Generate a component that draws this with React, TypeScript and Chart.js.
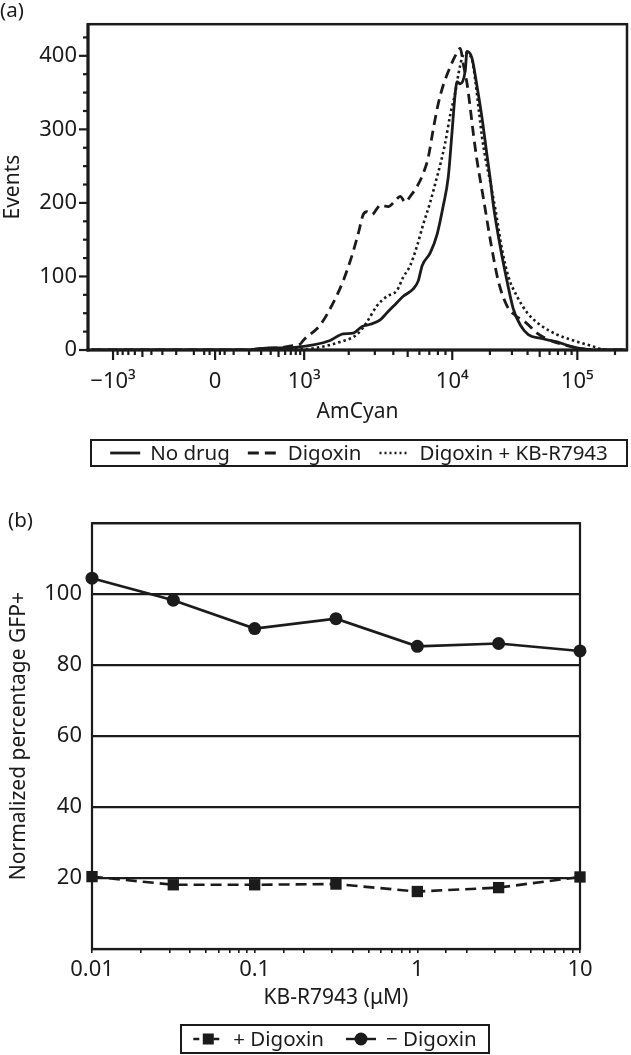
import React, { useEffect, useRef } from 'react';
import { Chart, registerables, LinearScale } from 'chart.js';

Chart.register(...registerables);

const FONT_FAMILY = '"Noto Sans", "DejaVu Sans", sans-serif';
const INK = '#1b1b1b';
const TICK_SIZE = 22;
const TITLE_SIZE = 21;
const LEGEND_SIZE = 20.5;

// ---------------- Panel (a): AmCyan histograms ----------------
const X_TICK_VALUES = [-1000, 0, 1000, 10000, 100000];
const X_TICK_LABELS = ['−10³', '0', '10³', '10⁴', '10⁵'];
const X_MID_TICKS = [-500, 500, 5000, 50000];
const X_MINOR_TICKS = [
  -900, -800, -700, -600, -400, -300, -200, -100, -50, -25,
  25, 50, 100, 200, 300, 400, 600, 700, 800, 900,
  2000, 3000, 4000, 6000, 7000, 8000, 9000,
  20000, 30000, 40000, 60000, 70000, 80000, 90000, 200000,
];
const X_MIN_A = -1476;
const X_MAX_A = 249500;
const Y_TICKS_A = [0, 100, 200, 300, 400];
const Y_MINOR_A = [25, 50, 75, 125, 150, 175, 225, 250, 275, 325, 350, 375, 425];
const Y_MAX_A = 443;

const NO_DRUG_X = [-1400, 200, 292, 523, 830, 1150, 1498, 1834, 2143, 2465, 2792, 3262, 3638, 4120, 4666, 5452, 5892, 6270, 7100, 7918, 8693, 9397, 9954, 10568, 10905, 11588, 12705, 13110, 14376, 15762, 17285, 18950, 20137, 21398, 24210, 27390, 30761, 34995, 40551, 50582, 68803, 92897, 144544, 240000];
const NO_DRUG_Y = [0, 0, 2, 3, 4, 7, 13, 22, 23, 32, 35, 41, 51, 62, 73, 83, 94, 115, 132, 158, 196, 235, 295, 350, 365, 362, 380, 406, 397, 359, 316, 265, 232, 195, 140, 94, 56, 34, 21, 16, 11, 4, 0, 0];

const DIGOXIN_X = [-1400, 200, 292, 523, 745, 900, 975, 1283, 1570, 1834, 2100, 2317, 2504, 2652, 2867, 3099, 3262, 3696, 4120, 4453, 4813, 5203, 5774, 6369, 6884, 7440, 8045, 8693, 9694, 10568, 11588, 12246, 13110, 13932, 14723, 15762, 17801, 20137, 23335, 27390, 31915, 38371, 47598, 60814, 82715, 105682, 134276, 240000];
const DIGOXIN_Y = [0, 0, 2, 3, 6, 8, 13, 34, 64, 94, 128, 158, 184, 188, 184, 192, 197, 195, 203, 209, 201, 209, 222, 240, 262, 300, 335, 360, 385, 400, 410, 389, 363, 329, 295, 258, 205, 150, 94, 60, 47, 38, 23, 13, 6, 2, 0, 0];

const DIG_KB_X = [-1400, 200, 689, 975, 1283, 1751, 2270, 2652, 3099, 3622, 4231, 4666, 5203, 5774, 6369, 7100, 7881, 8296, 8968, 9694, 10568, 11232, 11957, 12705, 14376, 15276, 16233, 17285, 18365, 20137, 22080, 24981, 28210, 32930, 39592, 50582, 68803, 92897, 127057, 173780, 240000];
const DIG_KB_Y = [0, 0, 1, 1, 4, 11, 21, 38, 60, 73, 81, 99, 115, 141, 171, 201, 235, 252, 282, 320, 350, 376, 397, 404, 395, 367, 329, 290, 262, 228, 192, 137, 99, 73, 51, 34, 21, 13, 6, 0, 0];

// ---------------- Panel (b): KB-R7943 titration ----------------
const KB_CONC = [0.01, 0.0316, 0.1, 0.316, 1, 3.16, 10];
const PLUS_DIGOXIN = [20.4, 18.1, 18.1, 18.3, 16.2, 17.3, 20.3];
const MINUS_DIGOXIN = [104.5, 98.3, 90.3, 93.1, 85.3, 86.1, 84.0];
const X_MAJOR_B = [0.01, 0.1, 1, 10];
const X_LABELS_B = ['0.01', '0.1', '1', '10'];

// ---------------- Biexponential-like display scale ----------------
const ASINH5 = Math.asinh(5);
function biexT(v: number): number {
  const a = Math.abs(v);
  if (v >= 0) {
    if (a <= 1000) return (0.89 * Math.asinh((5 * a) / 1000)) / ASINH5;
    if (a <= 10000) return 0.89 + 1.48 * Math.log10(a / 1000);
    return 2.37 + 1.25 * Math.log10(a / 10000);
  }
  if (a <= 1000) return (-1.02 * Math.asinh((5 * a) / 1000)) / ASINH5;
  return -1.02 - 1.48 * Math.log10(a / 1000);
}

class BiexScale extends (LinearScale as any) {
  static id = 'biex';
  static defaults = {};
  buildTicks() {
    (this as any).start = (this as any).min;
    (this as any).end = (this as any).max;
    return X_TICK_VALUES.map((v) => ({ value: v }));
  }
  getPixelForValue(value: number) {
    const self = this as any;
    const t0 = biexT(self.min);
    const t1 = biexT(self.max);
    return self.getPixelForDecimal((biexT(value) - t0) / (t1 - t0));
  }
  getValueForPixel(pixel: number) {
    const self = this as any;
    const t0 = biexT(self.min);
    const t1 = biexT(self.max);
    const target = t0 + self.getDecimalForPixel(pixel) * (t1 - t0);
    let lo = self.min;
    let hi = self.max;
    for (let i = 0; i < 60; i++) {
      const mid = (lo + hi) / 2;
      if (biexT(mid) < target) lo = mid;
      else hi = mid;
    }
    return (lo + hi) / 2;
  }
}
Chart.register(BiexScale as any);

const zip = (xs: number[], ys: number[]) => xs.map((x, i) => ({ x, y: ys[i] }));
const font = (size: number) => ({ family: FONT_FAMILY, size, weight: 'normal' as const });

function drawLegend(ctx: CanvasRenderingContext2D, box: any, items: any[], itemGap: number) {
  ctx.save();
  ctx.font = `${LEGEND_SIZE}px ${FONT_FAMILY}`;
  ctx.fillStyle = INK;
  ctx.strokeStyle = INK;
  ctx.lineWidth = 2;
  ctx.setLineDash([]);
  ctx.strokeRect(box.left, box.top, box.right - box.left, box.bottom - box.top);
  const sample = 30;
  const gap = 10;
  const widths = items.map((it) => ctx.measureText(it.label).width);
  const total = widths.reduce((s, w) => s + sample + gap + w, 0) + itemGap * (items.length - 1);
  let x = (box.left + box.right) / 2 - total / 2;
  const cy = (box.top + box.bottom) / 2;
  items.forEach((it, i) => {
    ctx.save();
    ctx.lineWidth = it.lineWidth;
    ctx.setLineDash(it.dash || []);
    ctx.beginPath();
    ctx.moveTo(x, cy);
    ctx.lineTo(x + sample, cy);
    ctx.stroke();
    ctx.setLineDash([]);
    if (it.point === 'rect') {
      ctx.fillRect(x + sample / 2 - 5.5, cy - 5.5, 11, 11);
    } else if (it.point === 'circle') {
      ctx.beginPath();
      ctx.arc(x + sample / 2, cy, 6.5, 0, Math.PI * 2);
      ctx.fill();
    }
    ctx.restore();
    ctx.textAlign = 'left';
    ctx.textBaseline = 'middle';
    ctx.fillText(it.label, x + sample + gap, cy + 1);
    x += sample + gap + widths[i] + itemGap;
  });
  ctx.restore();
}

function tickLine(ctx: CanvasRenderingContext2D, x1: number, y1: number, x2: number, y2: number) {
  ctx.beginPath();
  ctx.moveTo(x1, y1);
  ctx.lineTo(x2, y2);
  ctx.stroke();
}

const panelAPlugin = {
  id: 'panelA',
  afterDatasetsDraw(chart: any) {
    const { ctx, chartArea: ca, scales } = chart;
    const x = scales.x;
    const y = scales.y;
    ctx.save();
    ctx.strokeStyle = INK;
    ctx.lineWidth = 2.2;
    Y_TICKS_A.forEach((v) => { const p = y.getPixelForValue(v); tickLine(ctx, ca.left - 9, p, ca.left, p); });
    Y_MINOR_A.forEach((v) => { const p = y.getPixelForValue(v); tickLine(ctx, ca.left - 5, p, ca.left, p); });
    X_TICK_VALUES.forEach((v) => { const p = x.getPixelForValue(v); tickLine(ctx, p, ca.bottom, p, ca.bottom + 10); });
    X_MID_TICKS.forEach((v) => { const p = x.getPixelForValue(v); tickLine(ctx, p, ca.bottom, p, ca.bottom + 7); });
    X_MINOR_TICKS.forEach((v) => { const p = x.getPixelForValue(v); tickLine(ctx, p, ca.bottom, p, ca.bottom + 5); });
    ctx.lineWidth = 2.5;
    ctx.strokeRect(ca.left, ca.top, ca.right - ca.left, ca.bottom - ca.top);
    ctx.lineWidth = 3;
    tickLine(ctx, ca.left, ca.top - 1, ca.left, ca.bottom + 1.5);
    tickLine(ctx, ca.left - 1.5, ca.bottom, ca.right + 1, ca.bottom);
    ctx.fillStyle = INK;
    ctx.font = `${LEGEND_SIZE}px ${FONT_FAMILY}`;
    ctx.textAlign = 'left';
    ctx.textBaseline = 'middle';
    ctx.fillText('(a)', 0, 11);
    ctx.restore();
    const items = chart.data.datasets.map((d: any) => ({ label: d.label, dash: d.legendDash, lineWidth: d.borderWidth }));
    drawLegend(ctx, { left: 91, top: 440, right: 627, bottom: 466 }, items, 18);
  },
};

const panelBPlugin = {
  id: 'panelB',
  afterDatasetsDraw(chart: any) {
    const { ctx, chartArea: ca } = chart;
    ctx.save();
    ctx.strokeStyle = INK;
    ctx.lineWidth = 2.2;
    ctx.strokeRect(ca.left, ca.top, ca.right - ca.left, ca.bottom - ca.top);
    ctx.fillStyle = INK;
    ctx.font = `${LEGEND_SIZE}px ${FONT_FAMILY}`;
    ctx.textAlign = 'left';
    ctx.textBaseline = 'middle';
    ctx.fillText('(b)', 8, 21);
    ctx.restore();
    const items = chart.data.datasets.map((d: any) => ({ label: d.label, dash: d.legendDash, lineWidth: 2.4, point: d.pointStyle }));
    drawLegend(ctx, { left: 181, top: 525, right: 489, bottom: 553 }, items, 22);
  },
};

function configA(): any {
  return {
    type: 'line',
    data: {
      datasets: [
        { label: 'No drug', data: zip(NO_DRUG_X, NO_DRUG_Y), borderColor: INK, borderWidth: 2.8, borderDash: [], legendDash: [] },
        { label: 'Digoxin', data: zip(DIGOXIN_X, DIGOXIN_Y), borderColor: INK, borderWidth: 2.8, borderDash: [10, 6], legendDash: [11, 6] },
        { label: 'Digoxin + KB-R7943', data: zip(DIG_KB_X, DIG_KB_Y), borderColor: INK, borderWidth: 2.6, borderDash: [2.5, 3], legendDash: [2, 3] },
      ].map((d) => ({ ...d, pointRadius: 0, fill: false, cubicInterpolationMode: 'monotone' })),
    },
    options: {
      responsive: false,
      animation: false,
      events: [],
      layout: { padding: { left: 0, right: 4, top: 4, bottom: 50 } },
      plugins: { legend: { display: false }, tooltip: { enabled: false } },
      scales: {
        x: {
          type: 'biex',
          min: X_MIN_A,
          max: X_MAX_A,
          grid: { display: false, drawTicks: false },
          border: { display: false },
          ticks: {
            autoSkip: false,
            maxRotation: 0,
            padding: 19,
            color: INK,
            font: font(TICK_SIZE),
            callback: (v: number) => { const i = X_TICK_VALUES.indexOf(v); return i >= 0 ? X_TICK_LABELS[i] : ''; },
          },
          title: { display: true, text: 'AmCyan', color: INK, font: font(TITLE_SIZE), padding: { top: 0, bottom: 0 } },
          afterFit: (s: any) => { s.height = 75; },
        },
        y: {
          min: 0,
          max: Y_MAX_A,
          afterBuildTicks: (s: any) => { s.ticks = Y_TICKS_A.map((v) => ({ value: v })); },
          grid: { display: false, drawTicks: false },
          border: { display: false },
          ticks: { padding: 11, color: INK, font: font(TICK_SIZE) },
          title: { display: true, text: 'Events', color: INK, font: font(TITLE_SIZE), padding: { top: 0, bottom: 0 } },
          afterFit: (s: any) => { s.width = 88; },
        },
      },
    },
    plugins: [panelAPlugin],
  };
}

function configB(): any {
  return {
    type: 'line',
    data: {
      datasets: [
        { label: '+ Digoxin', data: zip(KB_CONC, PLUS_DIGOXIN), borderDash: [11, 6], legendDash: [6, 4], pointStyle: 'rect', pointRadius: 8 },
        { label: '− Digoxin', data: zip(KB_CONC, MINUS_DIGOXIN), borderDash: [], legendDash: [], pointStyle: 'circle', pointRadius: 6.5 },
      ].map((d) => ({
        ...d,
        borderColor: INK,
        borderWidth: 2.6,
        pointBackgroundColor: INK,
        pointBorderColor: INK,
        pointBorderWidth: 0,
        fill: false,
        tension: 0,
        clip: false,
      })),
    },
    options: {
      responsive: false,
      animation: false,
      events: [],
      layout: { padding: { left: 0, right: 51, top: 23, bottom: 44 } },
      plugins: { legend: { display: false }, tooltip: { enabled: false } },
      scales: {
        x: {
          type: 'logarithmic',
          min: 0.01,
          max: 10,
          grid: { display: true, drawOnChartArea: false, drawTicks: true, tickLength: 4, color: INK, lineWidth: 1.6 },
          border: { display: false },
          ticks: {
            autoSkip: false,
            maxRotation: 0,
            padding: 4,
            color: INK,
            font: font(TICK_SIZE),
            callback: (v: number) => {
              const i = X_MAJOR_B.findIndex((t) => Math.abs(Math.log10(v) - Math.log10(t)) < 1e-6);
              return i >= 0 ? X_LABELS_B[i] : '';
            },
          },
          title: { display: true, text: 'KB-R7943 (μM)', color: INK, font: font(TITLE_SIZE), padding: { top: 0, bottom: 0 } },
          afterFit: (s: any) => { s.height = 62; },
        },
        y: {
          min: 0,
          max: 120,
          grid: { display: true, drawTicks: false, color: INK, lineWidth: 2.2 },
          border: { display: false },
          ticks: {
            stepSize: 20,
            padding: 10,
            color: INK,
            font: font(TICK_SIZE),
            callback: (v: number) => (v === 0 || v === 120 ? '' : String(v)),
          },
          title: { display: true, text: 'Normalized percentage GFP+', color: INK, font: font(TITLE_SIZE), padding: { top: 6, bottom: 0 } },
          afterFit: (s: any) => { s.width = 92; },
        },
      },
    },
    plugins: [panelBPlugin],
  };
}

export default function App() {
  const refA = useRef<HTMLCanvasElement>(null);
  const refB = useRef<HTMLCanvasElement>(null);
  useEffect(() => {
    const a = new Chart(refA.current as HTMLCanvasElement, configA());
    const b = new Chart(refB.current as HTMLCanvasElement, configB());
    return () => {
      a.destroy();
      b.destroy();
    };
  }, []);
  return (
    <div style={{ position: 'absolute', left: 0, top: 0, width: 631, height: 1055, background: '#fff' }}>
      <canvas ref={refA} width={631} height={475} style={{ position: 'absolute', left: 0, top: 0 }} />
      <canvas ref={refB} width={631} height={555} style={{ position: 'absolute', left: 0, top: 500 }} />
    </div>
  );
}
